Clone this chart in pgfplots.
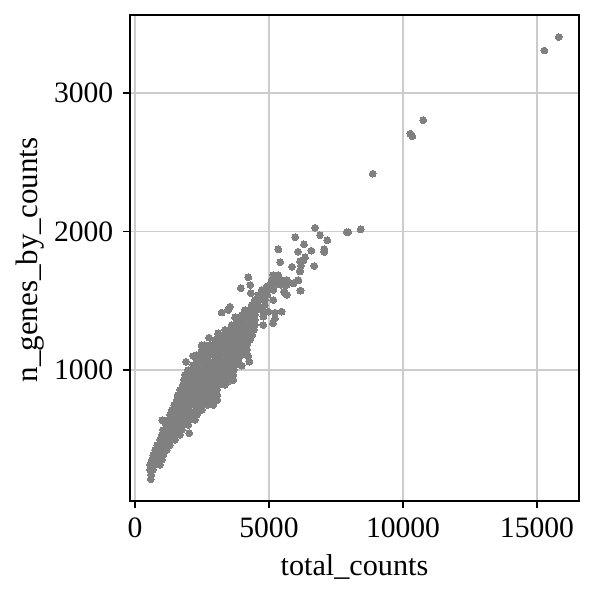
\documentclass[border=0pt]{standalone}
\usepackage{fontspec}
\setmainfont{Liberation Serif}
\usepackage{pgfplots}
\pgfplotsset{compat=1.18}
\definecolor{gridgray}{HTML}{CCCCCC}
\definecolor{ptgray}{HTML}{808080}
\begin{document}
\begin{tikzpicture}
\useasboundingbox (-62.4bp,-45.6bp) rectangle (223.2bp,240.48bp);
\begin{axis}[at={(0,0)},anchor=south west,scale only axis,width=215.5bp,height=233.3bp,
xmin=-187,xmax=16567,ymin=54,ymax=3563,
xtick={0,5000,10000,15000},ytick={1000,2000,3000},
scaled x ticks=false,scaled y ticks=false,
xlabel={total\_counts},ylabel={n\_genes\_by\_counts},
xmajorgrids,ymajorgrids,grid style={gridgray,line width=0.8bp},
axis line style={black,line width=0.8bp},
tick style={black,line width=0.8bp},tick align=outside,major tick length=3.5bp,
xtick pos=bottom,ytick pos=left,
tick label style={font=\fontsize{14.2bp}{16bp}\selectfont},
xlabel style={font=\fontsize{14.5bp}{16bp}\selectfont,yshift=-1.4bp},
ylabel style={font=\fontsize{14.9bp}{16bp}\selectfont,yshift=-2bp,xshift=-1bp},
/pgf/number format/assume math mode=true,/pgf/number format/1000 sep={},
xticklabel style={yshift=-1bp},yticklabel style={xshift=-1bp}]
% dense band, row by row
\addplot[only marks,mark=*,mark size=1.62bp,color=ptgray,mark options={draw=ptgray,fill=ptgray,line width=0pt}] coordinates {
(584,211) (600,242) (559,278) (659,278) (559,314) (740,314) (933,314) (622,350) (810,350) (995,350)
(684,386) (870,386) (1057,386) (746,422) (950,422) (1181,422) (833,458) (1070,458) (1306,458)
(933,495) (1120,495) (1310,495) (1492,495) (995,531) (1220,531) (1450,531) (1679,531)
(1057,567) (1280,567) (1510,567) (1741,567) (1157,603) (1370,603) (1580,603) (1790,603) (1990,603)
(1244,639) (1450,639) (1650,639) (1850,639) (2050,639) (2239,639)
(1306,675) (1510,675) (1710,675) (1910,675) (2110,675) (2301,675)
(1368,711) (1590,711) (1810,711) (2030,711) (2260,711) (2488,711)
(1467,747) (1670,747) (1880,747) (2090,747) (2300,747) (2510,747) (2720,747) (2923,747)
(1555,783) (1770,783) (1990,783) (2210,783) (2420,783) (2640,783) (2850,783) (3072,783)
(1592,820) (1800,820) (2010,820) (2220,820) (2430,820) (2640,820) (2850,820) (3072,820)
(1679,856) (1880,856) (2080,856) (2280,856) (2480,856) (2680,856) (2880,856) (3047,856)
(1779,892) (2000,892) (2230,892) (2450,892) (2680,892) (2900,892) (3130,892) (3358,892)
(1828,928) (2035,928) (2240,928) (2445,928) (2650,928) (2855,928) (3060,928) (3265,928) (3470,928) (3670,928)
(1866,964) (2070,964) (2270,964) (2470,964) (2670,964) (2870,964) (3070,964) (3270,964) (3470,964) (3670,964)
(1990,1000) (2200,1000) (2410,1000) (2620,1000) (2830,1000) (3040,1000) (3250,1000) (3460,1000) (3694,1000)
(2177,1036) (2390,1036) (2610,1036) (2830,1036) (3040,1036) (3260,1036) (3480,1036) (3694,1036)
(2301,1072) (2520,1072) (2740,1072) (2970,1072) (3190,1072) (3410,1072) (3630,1072) (3856,1072)
(2301,1108) (2510,1108) (2720,1108) (2930,1108) (3140,1108) (3350,1108) (3560,1108) (3770,1108) (3980,1108)
(2488,1145) (2700,1145) (2910,1145) (3120,1145) (3330,1145) (3540,1145) (3750,1145) (3960,1145) (4167,1145)
(2590,1181) (2800,1181) (3010,1181) (3220,1181) (3430,1181) (3640,1181) (3850,1181) (4060,1181) (4167,1181) (2488,1181)
(2985,1217) (3200,1217) (3420,1217) (3640,1217) (3860,1217) (4080,1217) (4291,1217)
(3110,1253) (3320,1253) (3530,1253) (3740,1253) (3950,1253) (4160,1253) (4378,1253)
(3358,1289) (3570,1289) (3780,1289) (3990,1289) (4210,1289) (4441,1289)
(3607,1325) (3820,1325) (4040,1325) (4260,1325) (4478,1325)
(3794,1361) (4020,1361) (4250,1361) (4478,1361) (3980,1397) (4230,1397) (4478,1397)
(4105,1433) (4310,1433) (4520,1433) (4727,1433) (4354,1469) (4600,1469) (4851,1469)
(4478,1506) (4660,1506) (4851,1506) (4602,1542) (4770,1542) (4938,1542)
(4727,1578) (4940,1578) (5162,1578) (5038,1614) (5240,1614) (5450,1614) (5660,1614)
(5100,1650) (5290,1650) (5480,1650) (5660,1650) (5162,1686) (5349,1686)
% stray points around the band
(1020,637) (2027,543) (1903,1058) (2177,1101) (2488,1173) (2761,1234) (3110,1265) (3234,1414)
(3483,1433) (3545,1457) (3732,1380) (4229,1669) (4304,1614) (3943,1590) (4316,1554)
(4229,1101) (4266,1060) (3980,1031) (3794,1041) (3669,928) (3545,923)
(5473,1421) (5224,1373) (5150,1337) (4789,1325) (4789,1385) (4913,1602) (5224,1414) (4976,1421)
(5909,1626) (6095,1650) (6182,1573) (5598,1554) (5660,1542) (5162,1505) (5560,1566) (6157,1710)
(5859,1744) (5423,1778) (5349,1871) (5983,1958)
% upper tail
(6082,1854) (6306,1907) (6580,1861) (7065,1873) (7065,1852) (6344,1813) (6281,1789) (6157,1784)
(6194,1753) (6692,1751) (6157,1717) (6095,1647) (5921,1625) (6169,1572)
(6717,2027) (6903,1974) (7177,1936) (7899,1994) (7961,1996) (8421,2015)
(8869,2417) (10275,2706) (10349,2687) (10760,2803) (15275,3306) (15810,3404)
};
\end{axis}
\end{tikzpicture}
\end{document}
